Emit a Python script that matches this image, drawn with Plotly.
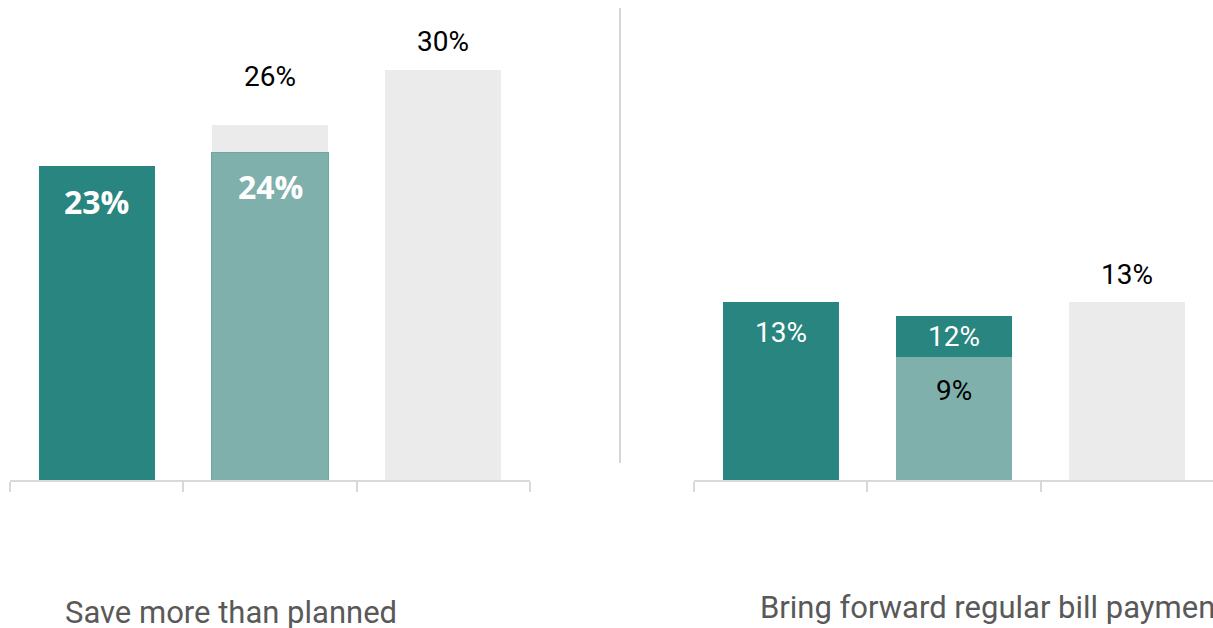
import plotly.graph_objects as go

# ---------------- data ----------------
categories = ["Group 1", "Group 2", "Group 3"]

panel_titles = ["Save more than planned", "Bring forward regular bill payments"]

# Panel 1: Save more than planned
save_dark = [23, None, None]
save_light = [None, 24, None]
save_grey_total = [None, 26, 30]

# Panel 2: Bring forward regular bill payments
bill_dark = [13, None, None]
bill_light = [None, 9, None]
bill_dark_total = [None, 12, None]
bill_grey = [None, None, 13]

# ---------------- styling ----------------
DARK = "#28857f"
LIGHT = "#80b0ac"
GREY = "#ebebeb"
AXIS = "#d9d9d9"

W, H = 1213, 628
ML, MR, MT, MB = 10, 0, 0, 148
PW = W - ML - MR
PH = H - MT - MB
YMAX = 35.14


def seg(total, base):
    out = []
    for t, b in zip(total, base):
        if t is None:
            out.append(None)
        else:
            out.append(t - (b or 0))
    return out


save_grey_seg = seg(save_grey_total, save_light)
bill_dark_seg = [a if a is not None else b for a, b in
                 zip(bill_dark, seg(bill_dark_total, bill_light))]

fig = go.Figure()
BW = 0.67


def bar(y, color, xa, ya, line=None):
    return go.Bar(x=categories, y=y, marker=dict(color=color,
                  line=dict(color=line or color, width=1 if line else 0)),
                  width=BW, xaxis=xa, yaxis=ya, showlegend=False,
                  hoverinfo="skip")


fig.add_trace(bar(save_dark, DARK, "x", "y"))
fig.add_trace(bar(save_light, LIGHT, "x", "y", line="#70a6a1"))
fig.add_trace(bar(save_grey_seg, GREY, "x", "y"))

fig.add_trace(bar(bill_light, LIGHT, "x2", "y2"))
fig.add_trace(bar(bill_dark_seg, DARK, "x2", "y2"))
fig.add_trace(bar(bill_grey, GREY, "x2", "y2"))

left_end = 520 / PW
right_start = (694 - ML) / PW
right_units = (PW * (1 - right_start)) / (PW * left_end / 3.0)

xcommon = dict(type="category", categoryorder="array", categoryarray=categories,
               showline=True, linecolor=AXIS, linewidth=2, ticks="outside",
               tickson="boundaries", ticklen=10, tickwidth=2, tickcolor=AXIS,
               showticklabels=False, showgrid=False, zeroline=False, fixedrange=True)
ycommon = dict(range=[0, YMAX], visible=False, showgrid=False, zeroline=False,
               fixedrange=True)

fig.update_layout(
    xaxis=dict(domain=[0, left_end], range=[-0.5, 2.5], anchor="y", **xcommon),
    xaxis2=dict(domain=[right_start, 1], range=[-0.5, -0.5 + right_units], anchor="y2", **xcommon),
    yaxis=dict(anchor="x", **ycommon),
    yaxis2=dict(anchor="x2", **ycommon),
    barmode="stack",
    width=W, height=H,
    margin=dict(l=ML, r=MR, t=MT, b=MB),
    paper_bgcolor="white", plot_bgcolor="white",
)

REG = dict(family="Roboto, Arial, sans-serif", size=28)
BOLD = dict(family="Open Sans, Arial, sans-serif", size=32, weight="bold")


def lab(xa, ya, i, v, shift, color, font):
    f = dict(font)
    f["color"] = color
    fig.add_annotation(x=categories[i], y=v, xref=xa, yref=ya, text=f"{v}%",
                       showarrow=False, yshift=shift, yanchor="middle",
                       xanchor="center", font=f)


# panel 1 labels
lab("x", "y", 0, save_dark[0], -36, "white", BOLD)
lab("x", "y", 1, save_light[1], -34, "white", BOLD)
lab("x", "y", 1, save_grey_total[1], 48, "black", REG)
lab("x", "y", 2, save_grey_total[2], 29, "black", REG)

# panel 2 labels
lab("x2", "y2", 0, bill_dark[0], -30, "white", REG)
lab("x2", "y2", 1, bill_dark_total[1], -20, "white", REG)
lab("x2", "y2", 1, bill_light[1], -33, "black", REG)
lab("x2", "y2", 2, bill_grey[2], 28, "black", REG)

# panel titles below the axes
TF = dict(family="Roboto, Arial, sans-serif", size=31, color="#595959")
for txt, px, py in [(panel_titles[0], 63, 612), (panel_titles[1], 758, 607)]:
    fig.add_annotation(x=(px - ML) / PW, y=(PH - py) / PH, xref="paper", yref="paper",
                       text=txt, showarrow=False, xanchor="left", yanchor="middle",
                       font=TF)

# vertical separator
fig.add_shape(type="line", xref="paper", yref="paper",
              x0=(620 - ML) / PW, x1=(620 - ML) / PW,
              y0=(PH - 463) / PH, y1=(PH - 8) / PH,
              line=dict(color="#c8c8c8", width=1.5))

fig.write_html("out.html")
